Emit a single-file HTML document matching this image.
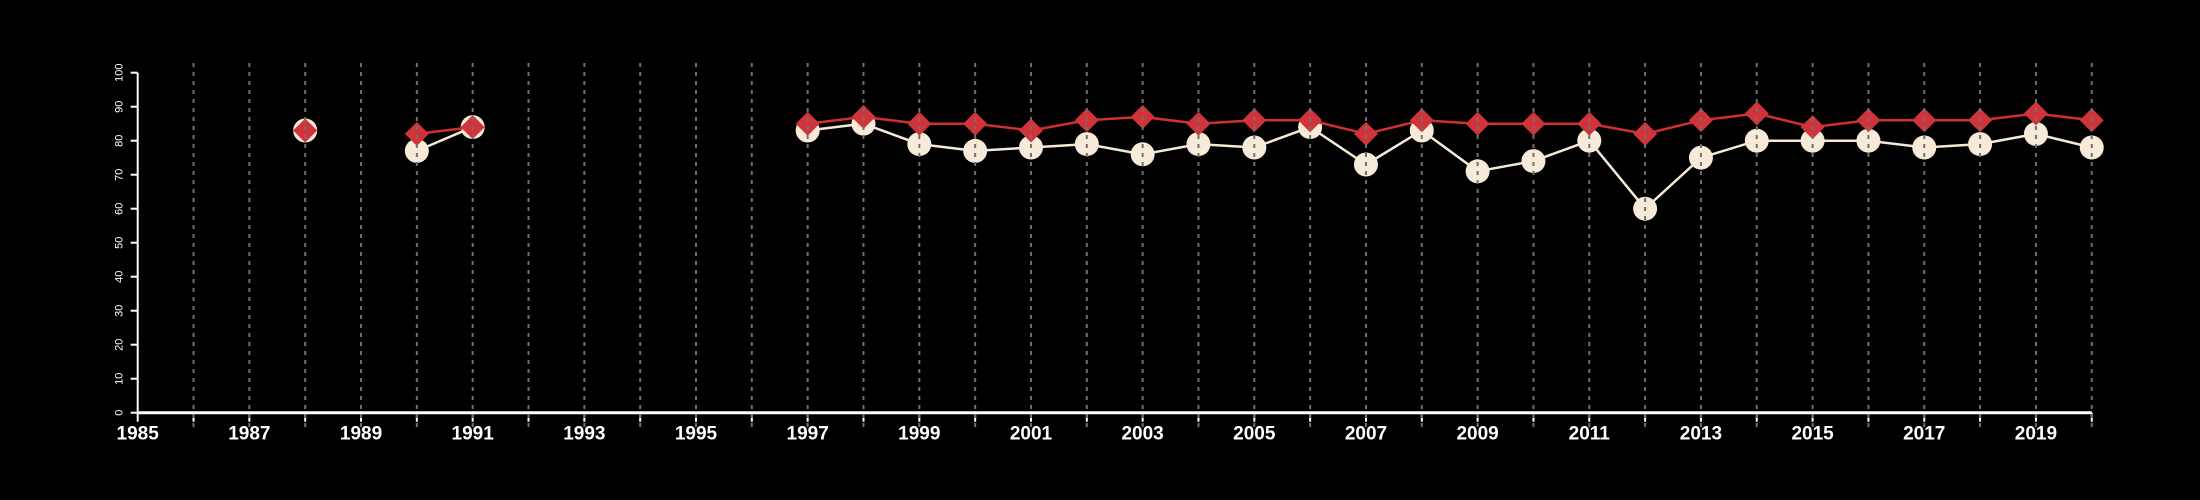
<!DOCTYPE html>
<html><head><meta charset="utf-8"><style>
html,body{margin:0;padding:0;background:#000;}
svg{display:block;font-family:"Liberation Sans",sans-serif;}
</style></head><body>
<svg id="chart" width="2200" height="500" xmlns="http://www.w3.org/2000/svg">
<rect width="2200" height="500" fill="#000"/>
</svg>
<script>
const years = [1988,1989,1990,1991,1992,1993,1994,1995,1996,1997,1998,1999,2000,2001,2002,2003,2004,2005,2006,2007,2008,2009,2010,2011,2012,2013,2014,2015,2016,2017,2018,2019,2020];
const circleValues = [83,null,77,84,null,null,null,null,null,83,85,79,77,78,79,76,79,78,84,73,83,71,74,80,60,75,80,80,80,78,79,82,78];
const diamondValues = [83,null,82,84,null,null,null,null,null,85,87,85,85,83,86,87,85,86,86,82,86,85,85,85,82,86,88,84,86,86,86,88,86];
const yTicks = [0,10,20,30,40,50,60,70,80,90,100];
const xTickLabels = [1985,1987,1989,1991,1993,1995,1997,1999,2001,2003,2005,2007,2009,2011,2013,2015,2017,2019];

const NS = "http://www.w3.org/2000/svg";
const svg = document.getElementById('chart');
const X0 = 137.7, XSTEP = 55.83, Y0 = 412.7, YU = 3.4;
const xs = y => X0 + (y - 1985) * XSTEP;
const ys = v => Y0 - v * YU;
function mk(tag, attrs, parent){ const e = document.createElementNS(NS, tag); for (const k in attrs) e.setAttribute(k, attrs[k]); (parent||svg).appendChild(e); return e; }

const ax = mk('g', {});


const yl = mk('line', {x1: X0, x2: X0, y1: ys(0), y2: ys(100), stroke: '#fff', 'stroke-width': 2}, ax);


yTicks.forEach(t => {
  const tk = mk('line', {x1: X0 - 7, x2: X0, y1: ys(t), y2: ys(t), stroke: '#fff', 'stroke-width': 2}, ax);
  
  
  const tx = mk('text', {x: 0, y: 0, fill: '#fff', 'font-size': 11, 'text-anchor': 'middle', transform: `translate(${X0 - 15},${ys(t)}) rotate(-90)`}, ax);
  tx.textContent = t;
  
  
});
const xl = mk('line', {x1: X0, x2: xs(2020), y1: Y0, y2: Y0, stroke: '#fff', 'stroke-width': 3}, ax);


for (let y = 1985; y <= 2020; y++) {
  const tk = mk('line', {x1: xs(y), x2: xs(y), y1: Y0, y2: Y0 + 9, stroke: '#fff', 'stroke-width': 2}, ax);
  
  
}
xTickLabels.forEach(y => {
  const tx = mk('text', {x: xs(y), y: Y0 + 27, fill: '#fff', 'font-size': 19, 'font-weight': 'bold', 'text-anchor': 'middle'}, ax);
  tx.textContent = y;
  
  
});

function series(vals, color, name){
  const g = mk('g', {});
  
  
  let seg = [];
  const flush = () => { if (seg.length > 1) { const p = mk('polyline', {points: seg.join(' '), fill: 'none', stroke: color, 'stroke-width': 2.5}, g);   } seg = []; };
  vals.forEach((v, i) => { if (v == null) flush(); else seg.push(xs(years[i]) + ',' + ys(v)); });
  flush();
  return g;
}
const cg = series(circleValues, '#f5e9d8', 'circle-series');
const dg = series(diamondValues, '#d03030', 'diamond-series');
circleValues.forEach((v, i) => {
  if (v == null) return;
  const c = mk('circle', {cx: xs(years[i]), cy: ys(v), r: 12, fill: '#f7ead8'}, cg);
  
  
});
diamondValues.forEach((v, i) => {
  if (v == null) return;
  const x = xs(years[i]), y = ys(v), r = 12;
  const d = mk('polygon', {points: `${x},${y-r} ${x+r},${y} ${x},${y+r} ${x-r},${y}`, fill: '#d0343a'}, dg);
  
  
});
const gg = mk('g', {});


for (let y = 1986; y <= 2020; y++) {
  const l = mk('line', {x1: xs(y), x2: xs(y), y1: 63, y2: 427, stroke: '#707070', 'stroke-width': 2, 'stroke-dasharray': '4 5'}, gg);
  
  
}
</script>
</body></html>
